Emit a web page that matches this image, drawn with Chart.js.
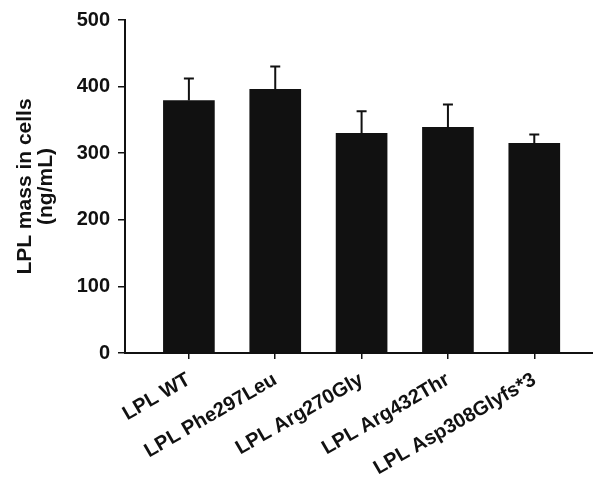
<!DOCTYPE html>
<html>
<head>
<meta charset="utf-8">
<script src="https://cdn.jsdelivr.net/npm/chart.js@4"></script>
<style>
html,body{margin:0;padding:0;background:#fff;}
#wrap{width:593px;height:490px;}
</style>
</head>
<body>
<div id="wrap"><canvas id="c" width="593" height="490"></canvas></div>
<script>
const categories = ["LPL WT", "LPL Phe297Leu", "LPL Arg270Gly", "LPL Arg432Thr", "LPL Asp308Glyfs*3"];
const means = [379, 396, 330, 339, 315];
const errors = [33, 34, 33, 34, 13];
const yTicks = [0, 100, 200, 300, 400, 500];
const yTitle = ["LPL mass in cells", "(ng/mL)"];

const FONT = "'Liberation Sans', Arial, Helvetica, sans-serif";

const errorBarPlugin = {
  id: 'errorBars',
  afterDatasetsDraw(chart) {
    const ctx = chart.ctx;
    const xs = chart.scales.x, ys = chart.scales.y;
    ctx.save();
    ctx.strokeStyle = '#111';
    ctx.lineWidth = 2;
    means.forEach((m, i) => {
      const x = xs.getPixelForValue(i);
      const yb = ys.getPixelForValue(m);
      const yt = ys.getPixelForValue(m + errors[i]);
      ctx.beginPath();
      ctx.moveTo(x, yb);
      ctx.lineTo(x, yt);
      ctx.moveTo(x - 5, yt);
      ctx.lineTo(x + 5, yt);
      ctx.stroke();
    });
    ctx.restore();
  }
};

new Chart(document.getElementById('c'), {
  type: 'bar',
  data: {
    datasets: [{
      data: means.map((v, i) => ({x: i, y: v})),
      backgroundColor: '#111111',
      borderWidth: 0,
      barThickness: 51
    }]
  },
  options: {
    responsive: false,
    animation: false,
    events: [],
    layout: {padding: {top: 18, right: 0, bottom: 0, left: 0}},
    plugins: {legend: {display: false}, tooltip: {enabled: false}},
    scales: {
      x: {
        type: 'linear',
        offset: false,
        min: -0.74,
        max: 4.68,
        afterBuildTicks(scale) { scale.ticks = categories.map((c, i) => ({value: i})); },
        afterFit(scale) { scale.height = 137; },
        border: {display: true, color: '#111', width: 2},
        grid: {display: true, offset: false, drawOnChartArea: false, drawTicks: true, tickLength: 6, color: '#111', lineWidth: 1.5},
        ticks: {
          autoSkip: false,
          maxRotation: 30,
          minRotation: 30,
          padding: 9,
          color: '#111',
          font: {family: FONT, size: 20, weight: 'bold'},
          callback: (v) => categories[v]
        }
      },
      y: {
        min: 0,
        max: 500,
        afterBuildTicks(scale) { scale.ticks = yTicks.map(v => ({value: v})); },
        afterFit(scale) { scale.width = 125; },
        border: {display: true, color: '#111', width: 2},
        grid: {display: true, drawOnChartArea: false, drawTicks: true, tickLength: 7, color: '#111', lineWidth: 1.5},
        ticks: {
          padding: 8,
          color: '#111',
          font: {family: FONT, size: 20, weight: 'bold'}
        },
        title: {
          display: true,
          text: yTitle,
          color: '#111',
          font: {family: FONT, size: 21, weight: 'bold', lineHeight: 1.0},
          padding: {top: 15, bottom: 0}
        }
      }
    }
  },
  plugins: [errorBarPlugin]
});
</script>
</body>
</html>
